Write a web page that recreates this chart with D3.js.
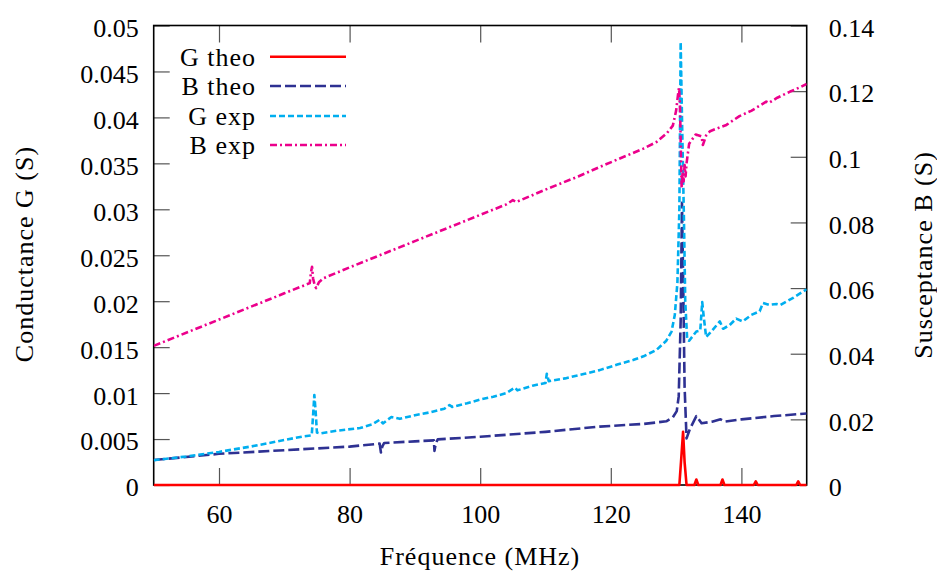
<!DOCTYPE html>
<html>
<head>
<meta charset="utf-8">
<script src="https://cdn.jsdelivr.net/npm/d3@7"></script>
<style>
  html, body { margin: 0; padding: 0; background: #fff; }
  svg { display: block; }
  svg text { font-family: "Liberation Serif", "Times New Roman", Tinos, "DejaVu Serif", "Noto Serif", serif !important; fill: #000; }
</style>
</head>
<body>
<svg id="chart" width="937" height="571"></svg>
<script>
// ---- data (frequency in MHz) ----
const gTheo = [[50,0],[130.5,0],[130.8,0.0030],[131.07,0.0058],[131.3,0.0025],[131.6,0],[132.8,0],[133.1,0.0006],[133.4,0],[136.8,0],[137.1,0.0006],[137.4,0],[141.9,0],[142.2,0.0004],[142.5,0],[148.4,0],[148.7,0.0004],[149,0],[150,0]];

const bTheo = [[50,0.0076],[60,0.0095],[70,0.0106],[80,0.0117],[84.6,0.0126],[84.8,0.0099],[85.0,0.0117],[85.3,0.0128],[90,0.0133],[92.9,0.0136],[93.0,0.0104],[93.2,0.0127],[93.5,0.0139],[100,0.0147],[110,0.0162],[118.3,0.0178],[125,0.0186],[128.5,0.0194],[129.5,0.0206],[130.1,0.0225],[130.4,0.0270],[130.7,0.0500],[130.9,0.0860],[131.1,0.0600],[131.3,0.0300],[131.6,0.0142],[132.1,0.0170],[133.1,0.0210],[133.9,0.0188],[135.5,0.0193],[136.8,0.0200],[137.4,0.0193],[140,0.0200],[145,0.0210],[150,0.0218]];

const gExp = [[50,0.0027],[55,0.0031],[60,0.0036],[65,0.0042],[70,0.0049],[73,0.0053],[74.2,0.0054],[74.4,0.0075],[74.6,0.0098],[74.8,0.0080],[75.0,0.0057],[75.5,0.0056],[78,0.0059],[81.6,0.0062],[83.5,0.0066],[84.6,0.0071],[85.1,0.0067],[86.4,0.0074],[87.7,0.0072],[90,0.0076],[92.3,0.0079],[94.5,0.0083],[95.3,0.0087],[95.7,0.0085],[98,0.0089],[100,0.0093],[102,0.0096],[104,0.0100],[105.3,0.0106],[105.7,0.0103],[108,0.0108],[110,0.0111],[110.2,0.0121],[110.5,0.0113],[113,0.0116],[116,0.0121],[118.3,0.0125],[121,0.0131],[123.4,0.0136],[125,0.0140],[127,0.0147],[128.5,0.0157],[129.3,0.0167],[129.8,0.0185],[130.2,0.0220],[130.5,0.0300],[130.7,0.0482],[130.9,0.0400],[131.2,0.0290],[131.4,0.0200],[131.7,0.0158],[132.0,0.0157],[133.1,0.0167],[133.7,0.0168],[134.0,0.0199],[134.2,0.0185],[134.6,0.0161],[135.5,0.0168],[136.7,0.0178],[137.2,0.0170],[138.2,0.0174],[139.2,0.0181],[140.2,0.0178],[141.5,0.0185],[142.8,0.0189],[143.3,0.0198],[144.3,0.0196],[145.4,0.0197],[146,0.0196],[148,0.0204],[150,0.0213]];

const bExp = [[50,0.0424],[60,0.0504],[70,0.0584],[73.9,0.0615],[74.1,0.0650],[74.25,0.0665],[74.4,0.0630],[74.7,0.0605],[74.9,0.0600],[75.3,0.0618],[76,0.0630],[80,0.0663],[90,0.0743],[100,0.0823],[104,0.0855],[105,0.0868],[105.5,0.0862],[110,0.0900],[115,0.0940],[118.3,0.0969],[122,0.1000],[125,0.1025],[127,0.1045],[128.6,0.1072],[129.5,0.1095],[130.0,0.1140],[130.3,0.1190],[130.45,0.1210],[130.6,0.1150],[130.75,0.1000],[130.85,0.0905],[131.0,0.0955],[131.15,0.0925],[131.3,0.0975],[131.45,0.0940],[131.6,0.0980],[132.0,0.1040],[133.0,0.1068],[133.9,0.1062],[134.1,0.1036],[134.6,0.1065],[135.2,0.1078],[136.5,0.1088],[137.7,0.1097],[139.7,0.1124],[141.5,0.1140],[143,0.1158],[143.8,0.1168],[144.2,0.1164],[145.5,0.1180],[147.4,0.1198],[149,0.1212],[150,0.1222]];

const xTicks = [60, 80, 100, 120, 140];
const xTickLabels = ["60", "80", "100", "120", "140"];
const yLeftTicks = [0, 0.005, 0.01, 0.015, 0.02, 0.025, 0.03, 0.035, 0.04, 0.045, 0.05];
const yLeftLabels = ["0", "0.005", "0.01", "0.015", "0.02", "0.025", "0.03", "0.035", "0.04", "0.045", "0.05"];
const yRightTicks = [0, 0.02, 0.04, 0.06, 0.08, 0.1, 0.12, 0.14];
const yRightLabels = ["0", "0.02", "0.04", "0.06", "0.08", "0.1", "0.12", "0.14"];

const seriesNames = ["G theo", "B theo", "G exp", "B exp"];
const seriesColors = ["#ff0000", "#2e3192", "#00aeef", "#ec008c"];
const seriesDash = [null, "11,4", "6,3", "7,3,2,3"];
const seriesAxis = ["left", "right", "left", "right"];
const seriesData = [gTheo, bTheo, gExp, bExp];

// ---- layout ----
const FONT = '"Liberation Serif", "Times New Roman", Tinos, "DejaVu Serif", "Noto Serif", serif';
const L = 153.7, R = 806.7, T = 25.5, B = 485;
const svg = d3.select("#chart");
const FS = 26;

const x = d3.scaleLinear().domain([50, 150]).range([L, R]);
const yL = d3.scaleLinear().domain([0, 0.05]).range([B, T]);
const yR = d3.scaleLinear().domain([0, 0.14]).range([B, T]);

// axes with inward ticks
const gBottom = svg.append("g").attr("transform", `translate(0,${B})`)
  .call(d3.axisBottom(x).tickValues(xTicks).tickFormat((d, i) => xTickLabels[i]).tickSizeInner(-17).tickSizeOuter(0).tickPadding(20));
const gTop = svg.append("g").attr("transform", `translate(0,${T})`)
  .call(d3.axisTop(x).tickValues(xTicks).tickFormat(() => "").tickSizeInner(-17).tickSizeOuter(0));
const gLeft = svg.append("g").attr("transform", `translate(${L},0)`)
  .call(d3.axisLeft(yL).tickValues(yLeftTicks).tickFormat((d, i) => yLeftLabels[i]).tickSizeInner(-16).tickSizeOuter(0).tickPadding(15));
const gRight = svg.append("g").attr("transform", `translate(${R},0)`)
  .call(d3.axisRight(yR).tickValues(yRightTicks).tickFormat((d, i) => yRightLabels[i]).tickSizeInner(-16).tickSizeOuter(0).tickPadding(22));

[gBottom, gTop, gLeft, gRight].forEach(g => {
  g.attr("font-family", FONT);
  g.select(".domain").remove();
  g.selectAll(".tick line").attr("stroke", "#555").attr("stroke-width", 1.2);
  g.selectAll("text").attr("font-size", FS).attr("font-family", FONT).attr("fill", "#000");
});
gLeft.selectAll("text").attr("dy", "0.42em");
gRight.selectAll("text").attr("dy", "0.41em");

// frame
svg.append("rect").attr("x", L).attr("y", T).attr("width", R - L).attr("height", B - T)
  .attr("fill", "none").attr("stroke", "#000").attr("stroke-width", 1.6);

// curves
svg.append("clipPath").attr("id", "clip").append("rect")
  .attr("x", L).attr("y", T - 4).attr("width", R - L).attr("height", B - T + 8);

const plot = svg.append("g").attr("clip-path", "url(#clip)");
seriesData.forEach((data, i) => {
  const ys = seriesAxis[i] === "left" ? yL : yR;
  const line = d3.line().x(d => x(d[0])).y(d => ys(d[1]));
  plot.append("path").datum(data)
    .attr("d", line)
    .attr("fill", "none")
    .attr("stroke", seriesColors[i])
    .attr("stroke-width", 2.6)
    .attr("stroke-linejoin", "round")
    .attr("stroke-dasharray", seriesDash[i]);
});

// legend
const legY = [56.7, 86, 116, 145];
seriesNames.forEach((name, i) => {
  svg.append("text").attr("x", 256).attr("y", legY[i] + 9)
    .attr("text-anchor", "end").attr("font-size", FS).attr("font-family", FONT)
    .attr("letter-spacing", 1).text(name);
  svg.append("line").attr("x1", 270).attr("x2", 346).attr("y1", legY[i]).attr("y2", legY[i])
    .attr("stroke", seriesColors[i]).attr("stroke-width", 2.6)
    .attr("stroke-dasharray", seriesDash[i]);
});

// axis titles
svg.append("text").attr("x", 480).attr("y", 565).attr("text-anchor", "middle")
  .attr("font-size", FS).attr("font-family", FONT).attr("letter-spacing", 1).text("Fréquence (MHz)");
svg.append("text").attr("transform", "translate(33,254) rotate(-90)").attr("text-anchor", "middle")
  .attr("font-size", FS).attr("font-family", FONT).attr("letter-spacing", 1).text("Conductance G (S)");
svg.append("text").attr("transform", "translate(932,255) rotate(-90)").attr("text-anchor", "middle")
  .attr("font-size", FS).attr("font-family", FONT).attr("letter-spacing", 1).text("Susceptance B (S)");
</script>
</body>
</html>
